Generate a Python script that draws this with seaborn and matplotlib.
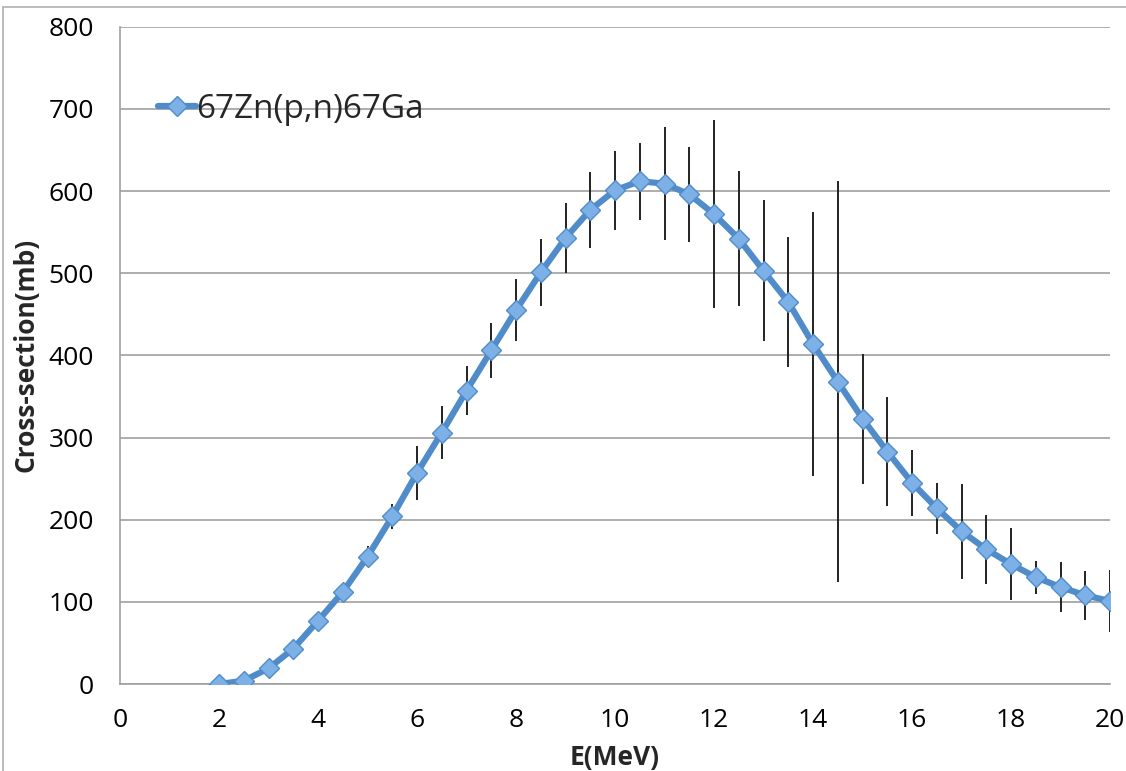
import numpy as np
import pandas as pd
import matplotlib
matplotlib.use("Agg")
import matplotlib.pyplot as plt
import seaborn as sns
from matplotlib.lines import Line2D

energy = [2, 2.5, 3, 3.5, 4, 4.5, 5, 5.5, 6, 6.5, 7, 7.5, 8, 8.5, 9, 9.5, 10,
          10.5, 11, 11.5, 12, 12.5, 13, 13.5, 14, 14.5, 15, 15.5, 16, 16.5,
          17, 17.5, 18, 18.5, 19, 19.5, 20]
cross_section = [0, 4, 19, 43, 77, 112, 155, 204, 257, 306, 357, 406, 455, 501,
                 543, 577, 601, 612, 609, 596, 572, 542, 503, 465, 414, 368,
                 323, 283, 245, 214, 186, 164, 146, 130, 118, 108, 101]
error = [0, 0, 0, 0, 0, 4, 13, 15, 33, 32, 30, 34, 38, 41, 43, 46, 48, 47, 69,
         58, 114, 82, 86, 79, 161, 244, 79, 66, 40, 31, 58, 42, 44, 20, 30, 30, 38]
series_label = "67Zn(p,n)67Ga"
x_ticks = [0, 2, 4, 6, 8, 10, 12, 14, 16, 18, 20]
y_ticks = [0, 100, 200, 300, 400, 500, 600, 700, 800]

df = pd.DataFrame({"E": energy, "sigma": cross_section, "err": error})

sns.set_theme(style="white")
plt.rcParams["font.family"] = ["Open Sans", "DejaVu Sans"]

fig = plt.figure(figsize=(11.26, 7.71), dpi=100)
ax = fig.add_axes([0.1066, 0.1128, 0.8792, 0.8525])

line_color = "#4F8CC9"
marker_face = "#7DB0E6"

ax.errorbar(df["E"], df["sigma"], yerr=df["err"], fmt="none",
            ecolor="#222222", elinewidth=1.4, capsize=0, zorder=2)
sns.lineplot(data=df, x="E", y="sigma", ax=ax, color=line_color, linewidth=4.5,
             marker="D", markersize=10.5, markerfacecolor=marker_face,
             markeredgecolor=line_color, markeredgewidth=1.0, zorder=3,
             label=series_label)

ax.set_xlim(0, 20)
ax.set_ylim(0, 800)
ax.set_xticks(x_ticks)
ax.set_yticks(y_ticks)
ax.set_xticklabels([str(t) for t in x_ticks])
ax.set_yticklabels([str(t) for t in y_ticks])
ax.tick_params(axis="both", labelsize=19, colors="#000000")
ax.tick_params(axis="x", direction="out", length=9, width=1, color="#A0A0A0", pad=8)
ax.tick_params(axis="y", direction="out", length=9, width=1, color="#A0A0A0", pad=10)
ax.yaxis.grid(True, color="#A0A0A0", linewidth=1.2)
ax.xaxis.grid(False)
for s in ["top", "right"]:
    ax.spines[s].set_visible(False)
for s in ["left", "bottom"]:
    ax.spines[s].set_color("#A0A0A0")
    ax.spines[s].set_linewidth(1.2)

ax.set_xlabel("E(MeV)", fontsize=19, fontweight="bold", labelpad=8)
ax.set_ylabel("Cross-section(mb)", fontsize=19, fontweight="bold", labelpad=6)

handle = Line2D([0], [0], color=line_color, linewidth=4.5, marker="D",
                markersize=10.5, markerfacecolor=marker_face,
                markeredgecolor=line_color)
leg = ax.legend([handle], [series_label], loc="upper left",
                bbox_to_anchor=(0.025, 0.92), frameon=False, fontsize=24,
                handlelength=1.15, handletextpad=0.0, borderaxespad=0)

fig.add_artist(Line2D([0.0027, 1.0], [0.991, 0.991], transform=fig.transFigure,
                      color="#B0B0B0", linewidth=1.2))
fig.add_artist(Line2D([0.0027, 0.0027], [0.0, 0.991], transform=fig.transFigure,
                      color="#B0B0B0", linewidth=1.2))

fig.savefig("out.png", dpi=100, facecolor="white")
